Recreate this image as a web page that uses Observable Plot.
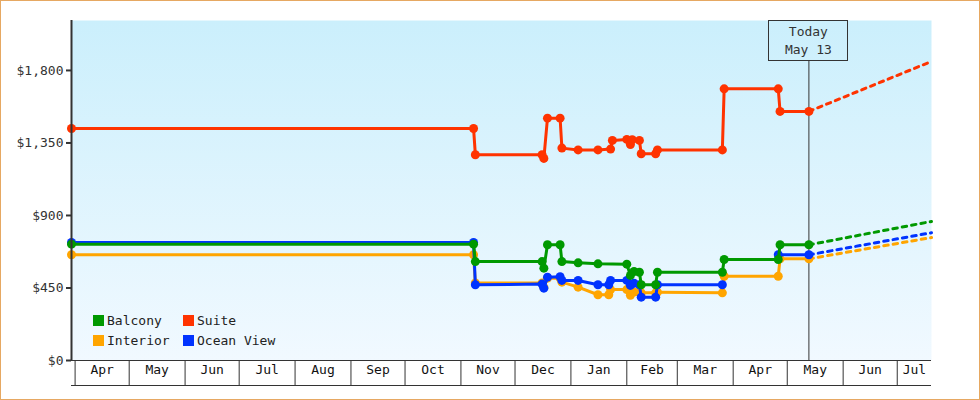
<!DOCTYPE html>
<html>
<head>
<meta charset="utf-8">
<script src="https://cdn.jsdelivr.net/npm/d3@7"></script>
<script src="https://cdn.jsdelivr.net/npm/@observablehq/plot@0.6"></script>
<style>
  body { margin: 0; background: #fff; }
  #wrap { position: relative; width: 980px; height: 400px; font-family: "DejaVu Sans Mono", monospace; }
  #border { position: absolute; left: 0; top: 0; width: 980px; height: 400px; box-sizing: border-box; border: 1px solid #e6a862; pointer-events: none; }
  #legend { position: absolute; left: 93px; top: 312px; display: grid; grid-template-columns: 90px 120px; row-gap: 4px; font-size: 13px; color: #222; }
  #legend .item { display: flex; align-items: center; height: 16px; }
  #legend .sw { width: 11px; height: 11px; margin-right: 3px; }
  #today { position: absolute; top: 20px; width: 80px; height: 41px; box-sizing: border-box; border: 1px solid #333; text-align: center; font-size: 13px; line-height: 18px; padding-top: 2px; color: #333; }
</style>
</head>
<body>
<div id="wrap">
  <div id="chart"></div>
  <div id="legend"></div>
  <div id="today"></div>
  <div id="border"></div>
</div>
<script>
// ---- data ----
const seriesNames = ["Balcony", "Suite", "Interior", "Ocean View"];
const seriesColors = ["#009900", "#ff3300", "#ffa500", "#0033ff"];
const yTicks = [0, 450, 900, 1350, 1800];
const xDomain = ["2024-03-30", "2025-07-20"];
const todayDate = "2025-05-13";
const todayLabel = ["Today", "May 13"];

const suite = [
  ["2024-03-30", 1440], ["2024-11-08", 1440], ["2024-11-09", 1277], ["2024-12-16", 1277],
  ["2024-12-17", 1254], ["2024-12-19", 1504], ["2024-12-26", 1504], ["2024-12-27", 1318],
  ["2025-01-05", 1307], ["2025-01-16", 1307], ["2025-01-23", 1312], ["2025-01-24", 1366],
  ["2025-02-01", 1372], ["2025-02-03", 1340], ["2025-02-04", 1370], ["2025-02-08", 1366],
  ["2025-02-09", 1283], ["2025-02-17", 1283], ["2025-02-18", 1307], ["2025-03-26", 1307],
  ["2025-03-27", 1686], ["2025-04-26", 1686], ["2025-04-27", 1546], ["2025-05-13", 1546]
];
const balcony = [
  ["2024-03-30", 722], ["2024-11-08", 722], ["2024-11-09", 614], ["2024-12-16", 614],
  ["2024-12-17", 573], ["2024-12-19", 718], ["2024-12-26", 718], ["2024-12-27", 614],
  ["2025-01-05", 606], ["2025-01-16", 600], ["2025-02-01", 598], ["2025-02-03", 528],
  ["2025-02-05", 552], ["2025-02-08", 548], ["2025-02-09", 470], ["2025-02-17", 470],
  ["2025-02-18", 548], ["2025-03-26", 548], ["2025-03-27", 627], ["2025-04-26", 627],
  ["2025-04-27", 718], ["2025-05-13", 718]
];
const oceanView = [
  ["2024-03-30", 732], ["2024-11-08", 732], ["2024-11-09", 470], ["2024-12-16", 474],
  ["2024-12-17", 449], ["2024-12-19", 517], ["2024-12-26", 520], ["2024-12-27", 497],
  ["2025-01-05", 497], ["2025-01-16", 470], ["2025-01-22", 470], ["2025-01-23", 497],
  ["2025-02-01", 497], ["2025-02-03", 466], ["2025-02-05", 480], ["2025-02-08", 470],
  ["2025-02-09", 393], ["2025-02-17", 393], ["2025-02-18", 470], ["2025-03-26", 470],
  ["2025-04-01", null],
  ["2025-04-26", 656], ["2025-05-13", 656]
];
const interior = [
  ["2024-03-30", 656], ["2024-11-08", 656], ["2024-11-09", 481], ["2024-12-16", 481],
  ["2024-12-17", 455], ["2024-12-19", 511], ["2024-12-26", 511], ["2024-12-27", 486],
  ["2025-01-05", 455], ["2025-01-16", 408], ["2025-01-22", 408], ["2025-01-23", 440],
  ["2025-02-01", 440], ["2025-02-03", 405], ["2025-02-05", 425], ["2025-02-08", 424],
  ["2025-02-09", 420], ["2025-02-17", 420], ["2025-02-18", 424], ["2025-03-26", 420],
  ["2025-03-27", 523], ["2025-04-26", 523], ["2025-04-27", 631], ["2025-05-13", 631]
];
// forecast: value at today, value at end of range
const forecastStart = [718, 1546, 631, 656];
const forecastEnd = [863, 1856, 763, 793];

// ---- build ----
const parse = s => new Date(s + "T00:00:00Z");
const toRows = (arr, name) => arr.map(([d, v]) => ({date: parse(d), value: v, series: name}));
const seriesData = {
  "Balcony": toRows(balcony, "Balcony"),
  "Suite": toRows(suite, "Suite"),
  "Interior": toRows(interior, "Interior"),
  "Ocean View": toRows(oceanView, "Ocean View")
};
const colorOf = Object.fromEntries(seriesNames.map((n, i) => [n, seriesColors[i]]));
const x0 = parse(xDomain[0]), x1 = parse(xDomain[1]), today = parse(todayDate);

const forecast = seriesNames.flatMap((n, i) => [
  {date: today, value: forecastStart[i], series: n},
  {date: x1, value: forecastEnd[i], series: n}
]);

const monthStarts = d3.utcMonth.range(d3.utcMonth.ceil(x0), x1);
const monthCells = d3.utcMonth.range(d3.utcMonth.floor(x0), x1).map(m => {
  const a = m < x0 ? x0 : m;
  const nxt = d3.utcMonth.offset(m, 1);
  const b = nxt > x1 ? x1 : nxt;
  return {mid: new Date((+a + +b) / 2), label: d3.utcFormat("%b")(m), wide: (b - a) > 10 * 864e5};
}).filter(d => d.wide);

const drawOrder = ["Interior", "Ocean View", "Balcony", "Suite"];
const seriesMarks = drawOrder.flatMap(n => [
  Plot.line(seriesData[n], {x: "date", y: "value", stroke: colorOf[n], strokeWidth: 3}),
  Plot.dot(seriesData[n].filter(d => d.value != null), {x: "date", y: "value", fill: colorOf[n], r: 4.5})
]);
const forecastMarks = drawOrder.map(n =>
  Plot.line(forecast.filter(d => d.series === n), {x: "date", y: "value", stroke: colorOf[n], strokeWidth: 3, strokeDasharray: "4.5,5"})
);

const plot = Plot.plot({
  width: 980,
  height: 400,
  marginLeft: 71,
  marginRight: 49,
  marginTop: 20,
  marginBottom: 40,
  style: {fontFamily: "'DejaVu Sans Mono', monospace", fontSize: "13px", color: "#333", background: "transparent"},
  x: {type: "utc", domain: [x0, x1], axis: null},
  y: {domain: [0, 2110], axis: null},
  marks: [
    Plot.frame({fill: "url(#bg)", stroke: "none"}),
    Plot.axisY(yTicks, {anchor: "left", tickSize: 5, tickPadding: 3, strokeWidth: 2, stroke: "#333", fill: "#333", tickFormat: d3.format("$,"), label: null, fontSize: 13}),
    Plot.axisX(monthStarts, {anchor: "bottom", tickSize: 25, tickFormat: () => "", label: null, stroke: "#333"}),
    Plot.ruleY([0], {stroke: "#333"}),
    Plot.ruleY([0], {stroke: "#333", dy: 25}),
    Plot.text(monthCells, {x: "mid", text: "label", frameAnchor: "bottom", dy: 13, fill: "#111", fontSize: 13}),
    Plot.ruleX([today], {stroke: "#333", insetTop: 40}),
    ...forecastMarks,
    ...seriesMarks,
    Plot.ruleX([x0], {stroke: "#333", strokeWidth: 2})
  ]
});

// gradient background for the plotting area
const defs = d3.select(plot).insert("defs", ":first-child");
const grad = defs.append("linearGradient").attr("id", "bg").attr("x1", 0).attr("y1", 0).attr("x2", 0).attr("y2", 1);
grad.append("stop").attr("offset", "0%").attr("stop-color", "#cbeffc");
grad.append("stop").attr("offset", "100%").attr("stop-color", "#f1f9ff");

document.getElementById("chart").appendChild(plot);

// legend
const legend = d3.select("#legend");
seriesNames.forEach((n, i) => {
  const it = legend.append("div").attr("class", "item");
  it.append("div").attr("class", "sw").style("background", seriesColors[i]);
  it.append("span").text(n);
});

// today box positioned with the x scale
const tx = plot.scale("x").apply(today);
const tb = document.getElementById("today");
tb.style.left = (tx - 40) + "px";
tb.innerHTML = todayLabel.map(t => `<div>${t}</div>`).join("");
</script>
</body>
</html>
